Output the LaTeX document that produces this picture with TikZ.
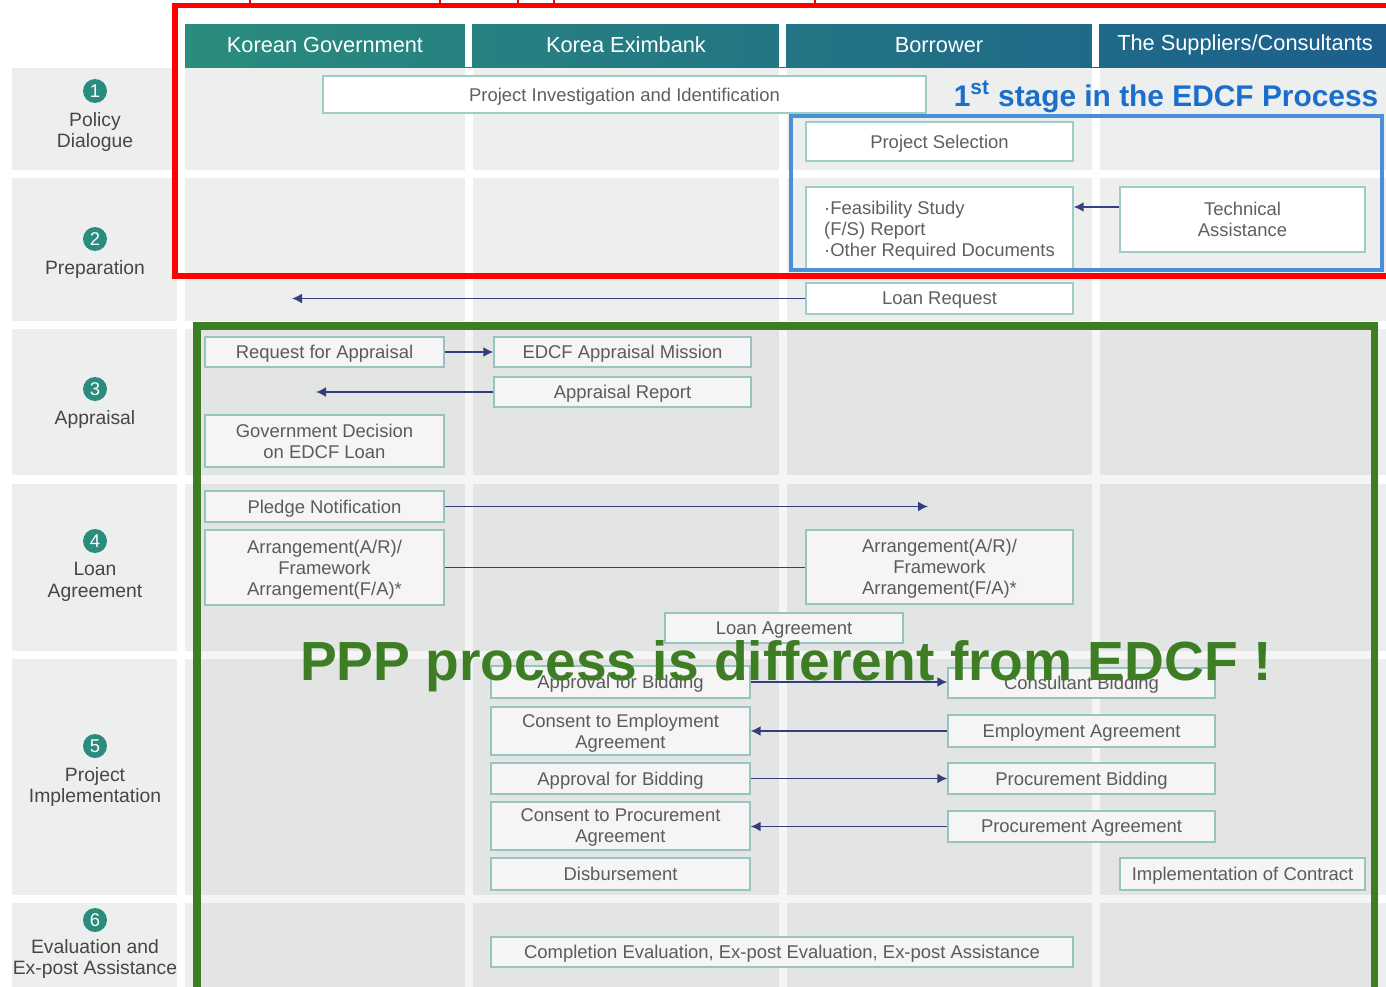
\documentclass[tikz,border=0pt]{standalone}
\usepackage{fontspec}
\setmainfont{Liberation Sans}
\usetikzlibrary{arrows.meta, positioning, calc}

\definecolor{cellgray}{RGB}{237,238,238}
\definecolor{boxline}{RGB}{158,204,198}
\definecolor{txtgray}{RGB}{95,95,95}
\definecolor{lbltxt}{RGB}{70,70,70}
\definecolor{tealhead}{RGB}{42,140,125}
\definecolor{bluehead}{RGB}{28,95,140}
\definecolor{arrowblue}{RGB}{55,65,130}
\definecolor{edcfred}{RGB}{255,0,0}
\definecolor{stageblue}{RGB}{74,144,217}
\definecolor{titleblue}{RGB}{28,110,205}
\definecolor{pppgreen}{RGB}{61,125,36}

\newcommand{\boxfont}{\fontsize{10.5}{12}\selectfont}
\newcommand{\lblfont}{\fontsize{11}{12.5}\selectfont}
\newcommand{\headfont}{\fontsize{12.4}{14}\selectfont}

\begin{document}
\begin{tikzpicture}[
  x=0.02cm, y=-0.02cm,
  every node/.style = {inner sep=0pt, align=center},
  box/.style = {draw=boxline, fill=white, text=txtgray, font=\boxfont, line width=0.8pt, text depth=0pt},
  stepnum/.style = {circle, fill=tealhead, text=white, minimum size=0.48cm,
                    font=\fontsize{10.5}{10.5}\selectfont},
  stagelbl/.style = {text=lbltxt, font=\lblfont},
  header/.style = {text=white, font=\headfont},
  arrow/.style = {-{Latex[length=2mm, width=2mm]}, line width=1pt, draw=arrowblue},
  link/.style = {line width=1pt, draw=arrowblue}
]
\clip (0,0) rectangle (1386,987);
\fill[white] (0,0) rectangle (1386,987);

% Grid of stage rows and actor columns
\foreach \ya/\yb in {68/170, 178/321, 329/475, 484/651, 659/895, 903/1000}{
  \foreach \xa/\xb in {12/177, 185/465, 473/779, 787/1092, 1100/1400}
    \fill[cellgray] (\xa,\ya) rectangle (\xb,\yb);
}

% Header bar
\shade[left color=tealhead, right color=bluehead] (185,24) rectangle (1386,67);
\foreach \xa in {465, 779, 1092}
  \fill[white] (\xa,24) rectangle (\xa+7,67);
\node[header] (hgov) at (325,45) {Korean Government};
\node[header] (hexim) at (626,45) {Korea Eximbank};
\node[header] (hborr) at (939,45) {Borrower};
\node[header] (hsupp) at (1245,45) {The Suppliers/Consultants};

% Stage labels (left column)
\node[stepnum] (n1) at (95,91) {1};
\node[stagelbl] (s1) at (95,132) {Policy\\Dialogue};
\node[stepnum] (n2) at (95,239) {2};
\node[stagelbl] (s2) at (95,269) {Preparation};
\node[stepnum] (n3) at (95,389) {3};
\node[stagelbl] (s3) at (95,419) {Appraisal};
\node[stepnum] (n4) at (95,541) {4};
\node[stagelbl] (s4) at (95,582) {Loan\\Agreement};
\node[stepnum] (n5) at (95,746) {5};
\node[stagelbl] (s5) at (95,787) {Project\\Implementation};
\node[stepnum] (n6) at (95,920) {6};
\node[stagelbl] (s6) at (95,959) {Evaluation and\\Ex-post Assistance};

% Stage 1-2: Policy dialogue and preparation
\node[box, minimum width=12.06cm, minimum height=0.74cm] (inv) at (624.5,94.5) {Project Investigation and Identification};
\node[box, minimum width=5.34cm, minimum height=0.78cm] (sel) at (939.5,141.5) {Project Selection};
\node[box, align=left, minimum width=5.34cm, minimum height=1.66cm] (fs) at (939.5,228.5)
  {·Feasibility Study\\(F/S) Report\\·Other Required Documents};
\node[box, minimum width=4.9cm, minimum height=1.3cm] (ta) at (1242.5,219.5) {Technical\\Assistance};
\node[box, minimum width=5.34cm, minimum height=0.62cm] (lr) at (939.5,298.5) {Loan Request};

% Stage 3: Appraisal
\node[box, minimum width=4.78cm, minimum height=0.6cm] (rfa) at (324.5,352) {Request for Appraisal};
\node[box, minimum width=5.14cm, minimum height=0.6cm] (mis) at (622.5,352) {EDCF Appraisal Mission};
\node[box, minimum width=5.14cm, minimum height=0.6cm] (rep) at (622.5,392) {Appraisal Report};
\node[box, minimum width=4.78cm, minimum height=1.04cm] (dec) at (324.5,441) {Government Decision\\on EDCF Loan};

% Stage 4: Loan agreement
\node[box, minimum width=4.78cm, minimum height=0.62cm] (pn) at (324.5,506.5) {Pledge Notification};
\node[box, minimum width=4.78cm, minimum height=1.5cm] (arL) at (324.5,567.5) {Arrangement(A/R)/\\Framework\\Arrangement(F/A)*};
\node[box, minimum width=5.34cm, minimum height=1.48cm] (arR) at (939.5,567) {Arrangement(A/R)/\\Framework\\Arrangement(F/A)*};
\node[box, minimum width=4.76cm, minimum height=0.6cm] (la) at (784,628) {Loan Agreement};

% Stage 5: Project implementation
\node[box, minimum width=5.18cm, minimum height=0.64cm] (ab1) at (620.5,682) {Approval for Bidding};
\node[box, minimum width=5.34cm, minimum height=0.6cm] (cb) at (1081.5,683) {Consultant Bidding};
\node[box, minimum width=5.18cm, minimum height=0.96cm] (cea) at (620.5,731) {Consent to Employment\\Agreement};
\node[box, minimum width=5.34cm, minimum height=0.64cm] (ea) at (1081.5,731) {Employment Agreement};
\node[box, minimum width=5.18cm, minimum height=0.62cm] (ab2) at (620.5,778.5) {Approval for Bidding};
\node[box, minimum width=5.34cm, minimum height=0.62cm] (pb) at (1081.5,778.5) {Procurement Bidding};
\node[box, minimum width=5.18cm, minimum height=0.96cm] (cpa) at (620.5,826) {Consent to Procurement\\Agreement};
\node[box, minimum width=5.34cm, minimum height=0.62cm] (pa) at (1081.5,826.5) {Procurement Agreement};
\node[box, minimum width=5.18cm, minimum height=0.64cm] (dis) at (620.5,874) {Disbursement};
\node[box, minimum width=4.9cm, minimum height=0.64cm] (ioc) at (1242.5,874) {Implementation of Contract};

% Stage 6: Evaluation
\node[box, minimum width=11.64cm, minimum height=0.6cm] (ce) at (782,952)
  {Completion Evaluation, Ex-post Evaluation, Ex-post Assistance};

% === ARROWS ===
\coordinate (lrend) at (292,298.5);
\coordinate (repend) at (316,392);
\coordinate (pnend) at (928,506.5);

\draw[arrow] ($(ta.west)+(0,-12.5)$) -- ($(fs.east)+(0,-21.5)$);
\draw[arrow] (lr.west) -- (lrend);
\draw[arrow] (rfa.east) -- (mis.west);
\draw[arrow] (rep.west) -- (repend);
\draw[arrow] (pn.east) -- (pnend);
\draw[link] (arL.east) -- (arL.east -| arR.west);
\draw[arrow] (ab1.east) -- (ab1.east -| cb.west);
\draw[arrow] (ea.west) -- (ea.west -| cea.east);
\draw[arrow] (ab2.east) -- (pb.west);
\draw[arrow] (pa.west) -- (pa.west -| cpa.east);

% === HIGHLIGHTS ===
\fill[black, fill opacity=0.04] (197,326) rectangle (1374,1010);
\draw[stageblue, line width=2.3pt] (791,116) rectangle (1382,270);
\foreach \xs in {250, 440, 518, 554, 815}
  \draw[edcfred, line width=1.5pt] (\xs,0) -- (\xs,5);
\draw[edcfred, line width=3.4pt] (175,5.5) rectangle (1400,276);
\draw[pppgreen, line width=4pt] (197,326) rectangle (1374,1010);

\node[text=titleblue, font=\bfseries\fontsize{17}{20}\selectfont, anchor=base] (edcf) at (1166,106)
  {1\textsuperscript{st} stage in the EDCF Process};
\node[text=pppgreen, font=\bfseries\fontsize{31.4}{36}\selectfont, anchor=base] (ppp) at (786,680)
  {PPP process is different from EDCF !};

\end{tikzpicture}
\end{document}
